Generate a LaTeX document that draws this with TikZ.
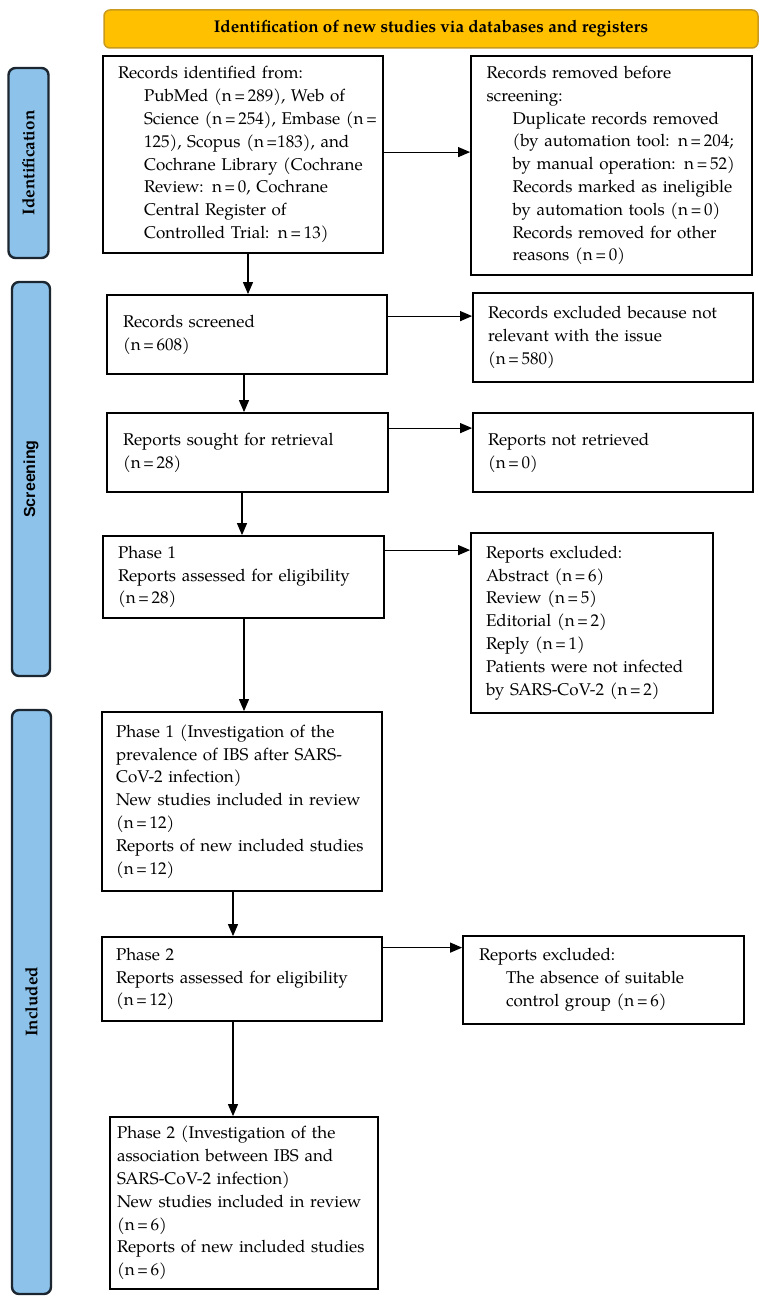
\documentclass[tikz,border=0pt]{standalone}
\usepackage{fontspec}
\usepackage{graphicx}
\setmainfont{TeX Gyre Pagella}
\newfontfamily\labsans{Liberation Sans}
\usetikzlibrary{arrows.meta,calc}
\definecolor{hdrfill}{HTML}{FFC000}
\definecolor{hdrdraw}{HTML}{C99A1E}
\definecolor{sidefill}{HTML}{8DC3EA}
\definecolor{sidedraw}{HTML}{1B2631}
\newcommand\Ln[1]{\mbox{#1}}
\newcommand\In[1]{\mbox{\hspace*{26pt}#1}}
\newcommand\eqs{\scalebox{0.85}[1]{=}}
\newcommand\eq{\kern2.5pt\eqs\kern2.5pt}
\begin{document}
\begin{tikzpicture}[x=1pt,y=-1pt,
  box/.style={draw=black, line width=1.8pt, fill=white, inner xsep=15pt, inner ysep=0pt,
    align=left, font=\fontsize{17}{22.8}\selectfont},
  hdr/.style={draw=hdrdraw, fill=hdrfill, line width=1.5pt, rounded corners=6pt,
    font=\bfseries\fontsize{17}{20}\selectfont},
  side/.style={draw=sidedraw, fill=sidefill, line width=2.4pt, rounded corners=7pt,
    rotate=90, inner sep=0pt, font=\bfseries\fontsize{17}{20}\selectfont},
  arr/.style={line width=1.1pt, -{Triangle[length=12pt,width=10pt]}}]
\fill[white] (0,0) rectangle (766,1303);
\useasboundingbox (0,0) rectangle (766,1303);

% header
\node[hdr, minimum width=654pt, minimum height=38pt] (hd) at (431,29)
  {Identification of new studies via databases and registers};

% side labels
\node[side, minimum width=190pt, minimum height=40pt] (sid) at (28.5,163) {Identification};
\node[side, minimum width=394pt, minimum height=38pt, font=\labsans\bfseries\fontsize{16}{20}\selectfont] (ssc) at (31,479) {Screening};
\node[side, minimum width=584pt, minimum height=39pt] (sin) at (31.5,1002) {Included};

% boxes
\node[box, minimum width=280pt, minimum height=197pt, text width=250pt] (b1) at (243,154.5)
{\Ln{Records identified from:}\\
\In{PubMed (n\eq 289), Web of}\\
\In{Science (n\eq 254), Embase (n\eq}\\
\In{125), Scopus (n\kern2.5pt\eqs 183), and}\\
\In{Cochrane Library (Cochrane}\\
\In{Review: n\eq 0, Cochrane}\\
\In{Central Register of}\\
\In{Controlled Trial: n\eq 13)}};

\node[box, minimum width=281pt, minimum height=219pt, text width=250pt, inner xsep=15.5pt] (b2) at (611.5,165.5)
{\Ln{Records removed before}\\
\Ln{screening:}\\
\In{Duplicate records removed}\\
\In{(by automation tool: n\eq 204;}\\
\In{by manual operation: n\eq 52)}\\
\In{Records marked as ineligible}\\
\In{by automation tools (n\eq 0)}\\
\In{Records removed for other}\\
\In{reasons (n\eq 0)}};

\node[box, minimum width=280pt, minimum height=79pt, text width=248pt, inner xsep=16pt] (b3) at (247,334.5)
{\Ln{Records screened}\\\Ln{(n\eq 608)}};

\node[box, minimum width=280pt, minimum height=89pt, text width=250pt] (b4) at (613,337.5)
{\Ln{Records excluded because not}\\\Ln{relevant with the issue}\\\Ln{(n\eq 580)}};

\node[box, minimum width=281pt, minimum height=79pt, text width=249pt, inner xsep=16pt] (b5) at (247.5,452.5)
{\Ln{Reports sought for retrieval}\\\Ln{(n\eq 28)}};

\node[box, minimum width=280pt, minimum height=79pt, text width=250pt] (b6) at (613,452.5)
{\Ln{Reports not retrieved}\\\Ln{(n\eq 0)}};

\node[box, minimum width=281pt, minimum height=82pt, text width=251pt] (b7) at (243.5,577)
{\Ln{Phase 1}\\\Ln{Reports assessed for eligibility}\\\Ln{(n\eq 28)}};

\node[box, minimum width=242pt, minimum height=180pt, text width=212pt] (b8) at (592,623)
{\Ln{Reports excluded:}\\
\Ln{Abstract (n\eq 6)}\\
\Ln{Review (n\eq 5)}\\
\Ln{Editorial (n\eq 2)}\\
\Ln{Reply (n\eq 1)}\\
\Ln{Patients were not infected}\\
\Ln{by SARS-CoV-2 (n\eq 2)}};

\node[box, minimum width=280pt, minimum height=179pt, text width=252pt, inner xsep=14pt] (b9) at (242,801.5)
{\Ln{Phase 1 (Investigation of the}\\
\Ln{prevalence of IBS after SARS-}\\
\Ln{CoV-2 infection)}\\
\Ln{New studies included in review}\\
\Ln{(n\eq 12)}\\
\Ln{Reports of new included studies}\\
\Ln{(n\eq 12)}};

\node[box, minimum width=280pt, minimum height=84pt, text width=252pt, inner xsep=14pt] (b10) at (242,979)
{\Ln{Phase 2}\\\Ln{Reports assessed for eligibility}\\\Ln{(n\eq 12)}};

\node[box, minimum width=281pt, minimum height=88pt, text width=249pt, inner xsep=16pt] (b11) at (603.5,980)
{\Ln{Reports excluded:}\\
\Ln{\hspace*{27pt}The absence of suitable}\\
\Ln{\hspace*{27pt}control group (n\eq 6)}};

\node[box, minimum width=268pt, minimum height=172pt, text width=254pt, inner xsep=7pt] (b12) at (244,1203)
{\Ln{Phase 2 (Investigation of the}\\
\Ln{association between IBS and}\\
\Ln{SARS-CoV-2 infection)}\\
\Ln{New studies included in review}\\
\Ln{(n\eq 6)}\\
\Ln{Reports of new included studies}\\
\Ln{(n\eq 6)}};

% horizontal arrows
\coordinate (h1) at ($(b1.north east)+(0,97)$);
\draw[arr] (h1) -- (h1 -| b2.west);
\coordinate (h3) at ($(b3.north east)+(0,22)$);
\draw[arr] (h3) -- (h3 -| b4.west);
\coordinate (h5) at ($(b5.north east)+(0,16)$);
\draw[arr] (h5) -- (h5 -| b6.west);
\coordinate (h7) at ($(b7.north east)+(0,15)$);
\draw[arr] (h7) -- (h7 -| b8.west);
\coordinate (h10) at ($(b10.north east)+(0,11.5)$);
\draw[arr] (h10) -- (h10 -| b11.west);

% vertical arrows
\coordinate (v1) at ($(b1.south)+(5,0)$);
\draw[arr] (v1) -- (v1 |- b3.north);
\coordinate (v3) at ($(b3.south)+(-3,0)$);
\draw[arr] (v3) -- (v3 |- b5.north);
\coordinate (v5) at ($(b5.south)+(-5.5,0)$);
\draw[arr] (v5) -- (v5 |- b7.north);
\coordinate (v7) at ($(b7.south)+(0.5,0)$);
\draw[arr] (v7) -- (v7 |- b9.north);
\coordinate (v9) at ($(b9.south)+(-9,0)$);
\draw[arr] (v9) -- (v9 |- b10.north);
\coordinate (v10) at ($(b10.south)+(-9,0)$);
\draw[arr] (v10) -- (v10 |- b12.north);
\end{tikzpicture}
\end{document}
